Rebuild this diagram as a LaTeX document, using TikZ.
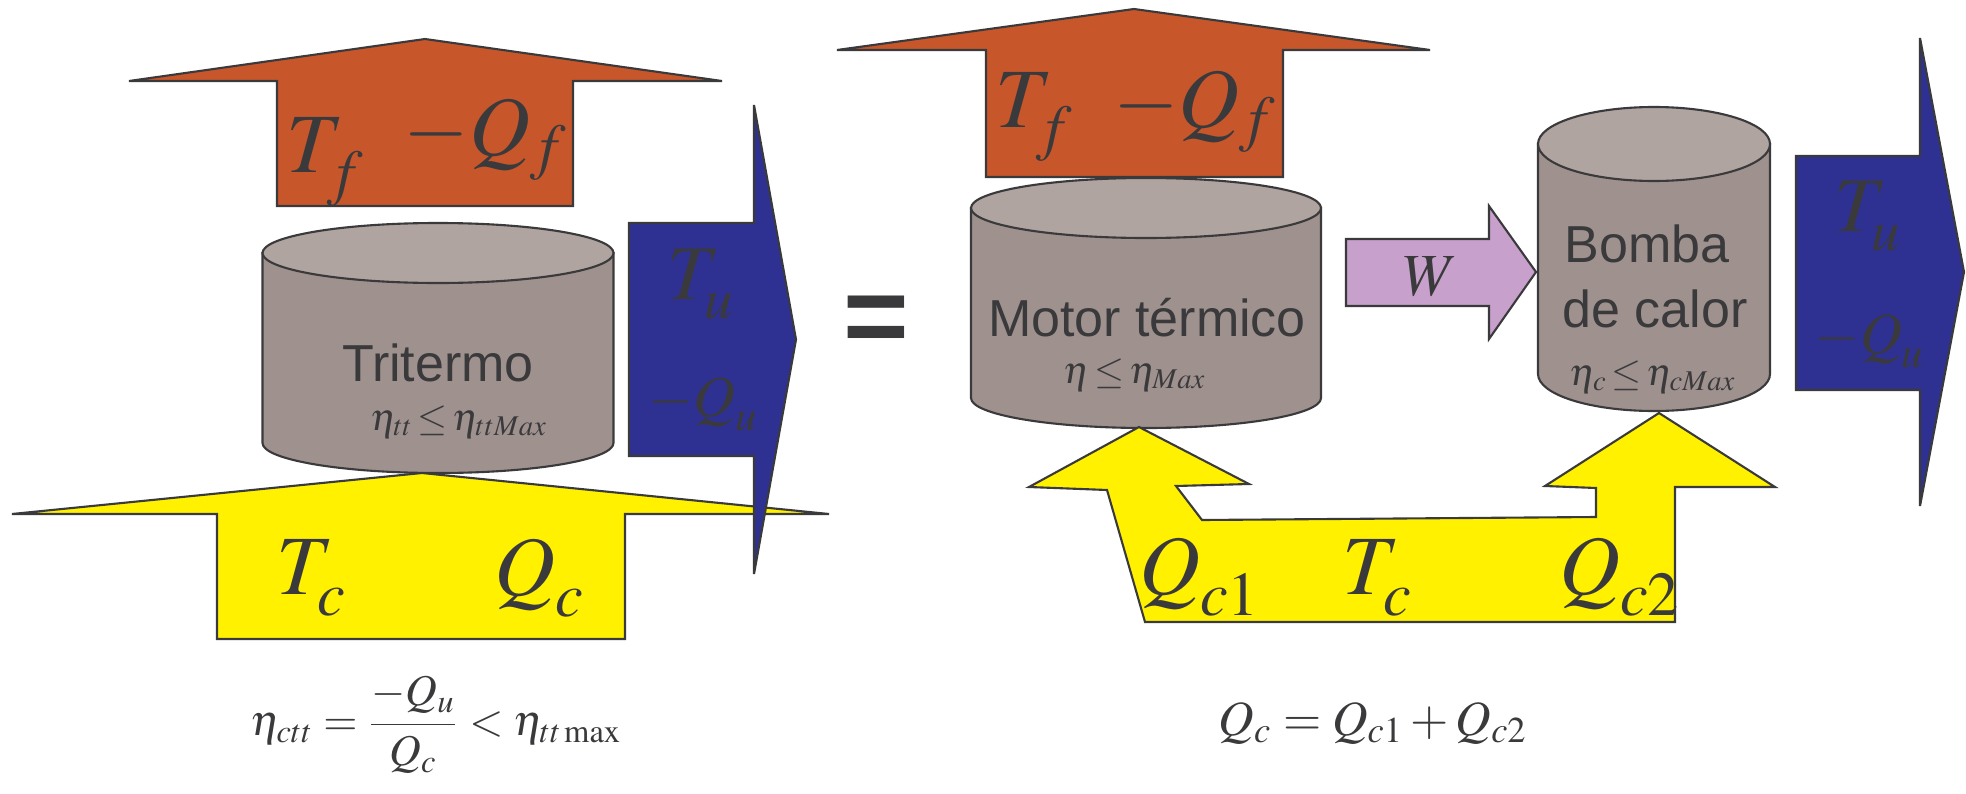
\documentclass[tikz,border=0pt]{standalone}
\usepackage{mathptmx}
\usepackage[no-math]{fontspec}
\setmainfont{Liberation Serif}
\setsansfont{Liberation Sans}

\definecolor{ink}{HTML}{3A3A3C}
\definecolor{coldside}{HTML}{C8562B}
\definecolor{hotside}{HTML}{FFF100}
\definecolor{useful}{HTML}{2E3192}
\definecolor{work}{HTML}{C7A0CB}
\definecolor{drumside}{HTML}{9F928E}
\definecolor{drumlid}{HTML}{AFA49F}

% subscript set a little lower, as in the original slide
\newcommand{\sdrop}[1]{\raisebox{-0.1em}{$\scriptstyle #1$}}

\tikzset{
  flow/.style={draw=ink, line width=0.6pt, line join=miter},
  body/.style={fill=drumside, draw=ink, line width=0.6pt},
  lid/.style={fill=drumlid, draw=ink, line width=0.6pt},
  bigmath/.style={text=ink, inner sep=0pt, anchor=base, font=\fontsize{24}{28}\selectfont},
  midmath/.style={text=ink, inner sep=0pt, anchor=base, font=\fontsize{16.5}{20}\selectfont},
  effic/.style={text=ink, inner sep=0pt, anchor=base, font=\fontsize{11}{13}\selectfont},
  devname/.style={text=ink, inner sep=0pt, anchor=base, font=\sffamily\fontsize{14.8}{18}\selectfont}
}

\begin{document}
\begin{tikzpicture}
  \useasboundingbox (0,0) rectangle (19.66,7.93);

  % --- tritermo on its own ---
  \fill[coldside, flow] (4.25,7.54) -- (7.22,7.12) -- (5.73,7.12) -- (5.73,5.87)
    -- (2.77,5.87) -- (2.77,7.12) -- (1.29,7.12) -- cycle;
  \filldraw[body] (2.625,5.40) -- (2.625,3.50) arc[start angle=180, end angle=360, x radius=1.755, y radius=0.30]
    -- (6.135,5.40) -- cycle;
  \filldraw[lid] (4.38,5.40) ellipse [x radius=1.755, y radius=0.30];
  \fill[hotside, flow] (4.22,3.20) -- (8.29,2.79) -- (6.25,2.79) -- (6.25,1.54)
    -- (2.17,1.54) -- (2.17,2.79) -- (0.12,2.79) -- cycle;
  \fill[useful, flow] (7.96,4.535) -- (7.54,2.19) -- (7.54,3.37) -- (6.29,3.37)
    -- (6.29,5.70) -- (7.54,5.70) -- (7.54,6.88) -- cycle;

  \node[bigmath] (tf1) at (3.26,6.21) {$T_{\sdrop{f}}$};
  \node[bigmath] (qf1) at (4.86,6.38) {$-Q_f$};
  \node[devname] (tri) at (4.38,4.12) {Tritermo};
  \node[effic] (etatt) at (4.59,3.63) {$\eta_{tt}\mathrel{\!\le\!}\eta_{ttMax}$};
  \node[bigmath, font=\fontsize{22}{26}\selectfont] (tu1) at (7.01,4.94) {$T_{\sdrop{u}}$};
  \node[midmath] (qu1) at (7.04,3.77) {$-Q_{\sdrop{u}}$};
  \node[bigmath] (tc1) at (3.12,1.99) {$T_{\sdrop{c}}$};
  \node[bigmath] (qc1) at (5.40,1.98) {$Q_{\sdrop{c}}$};

  \node[text=ink, inner sep=0pt, anchor=base, font=\sffamily\bfseries\fontsize{32}{36}\selectfont]
    (eq) at (8.765,4.385) {=};

  % --- motor + heat pump ---
  \fill[coldside, flow] (11.34,7.84) -- (14.30,7.43) -- (12.83,7.43) -- (12.83,6.16)
    -- (9.86,6.16) -- (9.86,7.43) -- (8.37,7.43) -- cycle;
  \filldraw[body] (9.71,5.85) -- (9.71,3.95) arc[start angle=180, end angle=360, x radius=1.75, y radius=0.30]
    -- (13.21,5.85) -- cycle;
  \filldraw[lid] (11.46,5.85) ellipse [x radius=1.75, y radius=0.30];
  \fill[work, flow] (15.36,5.21) -- (14.89,4.54) -- (14.89,4.87) -- (13.46,4.87)
    -- (13.46,5.54) -- (14.89,5.54) -- (14.89,5.87) -- cycle;
  \filldraw[body] (15.38,6.49) -- (15.38,4.19) arc[start angle=180, end angle=360, x radius=1.16, y radius=0.37]
    -- (17.70,6.49) -- cycle;
  \filldraw[lid] (16.54,6.49) ellipse [x radius=1.16, y radius=0.37];
  \fill[hotside, flow] (11.39,3.66) -- (12.49,3.09) -- (11.76,3.07) -- (12.02,2.73)
    -- (15.96,2.76) -- (15.96,3.05) -- (15.45,3.07) -- (16.59,3.80) -- (17.75,3.06)
    -- (16.75,3.06) -- (16.75,1.71) -- (11.45,1.71) -- (11.07,3.03) -- (10.29,3.06) -- cycle;
  \fill[useful, flow] (19.64,5.21) -- (19.20,2.87) -- (19.20,4.03) -- (17.96,4.03)
    -- (17.96,6.37) -- (19.20,6.37) -- (19.20,7.55) -- cycle;

  \node[bigmath] (tf2) at (10.35,6.66) {$T_{\sdrop{f}}$};
  \node[bigmath] (qf2) at (11.95,6.66) {$-Q_f$};
  \node[devname] (mot) at (11.47,4.57) {Motor térmico};
  \node[effic] (eta) at (11.35,4.10) {$\eta\mathrel{\!\le\!}\eta_{Max}$};
  \node[midmath, font=\fontsize{17}{20}\selectfont] (w) at (14.31,4.98) {$W$};
  \node[devname] (bomba) at (16.47,5.31) {Bomba};
  \node[devname] (calor) at (16.55,4.66) {de calor};
  \node[effic] (etac) at (16.53,4.08) {$\eta_c\mathrel{\!\le\!}\eta_{cMax}$};
  \node[bigmath, font=\fontsize{22}{26}\selectfont] (tu2) at (18.68,5.62) {$T_{\sdrop{u}}$};
  \node[midmath] (qu2) at (18.70,4.40) {$-Q_{\sdrop{u}}$};
  \node[bigmath] (qc11) at (12.00,1.99) {$Q_{\sdrop{c1}}$};
  \node[bigmath] (tc2) at (13.78,1.99) {$T_{\sdrop{c}}$};
  \node[bigmath] (qc12) at (16.20,1.99) {$Q_{\sdrop{c2}}$};

  % --- relations underneath ---
  \node[text=ink, inner sep=0pt, font=\fontsize{12.5}{15}\selectfont] (ratio) at (4.36,0.68)
    {$\displaystyle \eta_{ctt}=\frac{-Q_u}{Q_c}<\eta_{tt\max}$};
  \node[text=ink, inner sep=0pt, anchor=base, font=\fontsize{14}{17}\selectfont] (sum) at (13.73,0.58)
    {$Q_c=Q_{c1}+Q_{c2}$};
\end{tikzpicture}
\end{document}
